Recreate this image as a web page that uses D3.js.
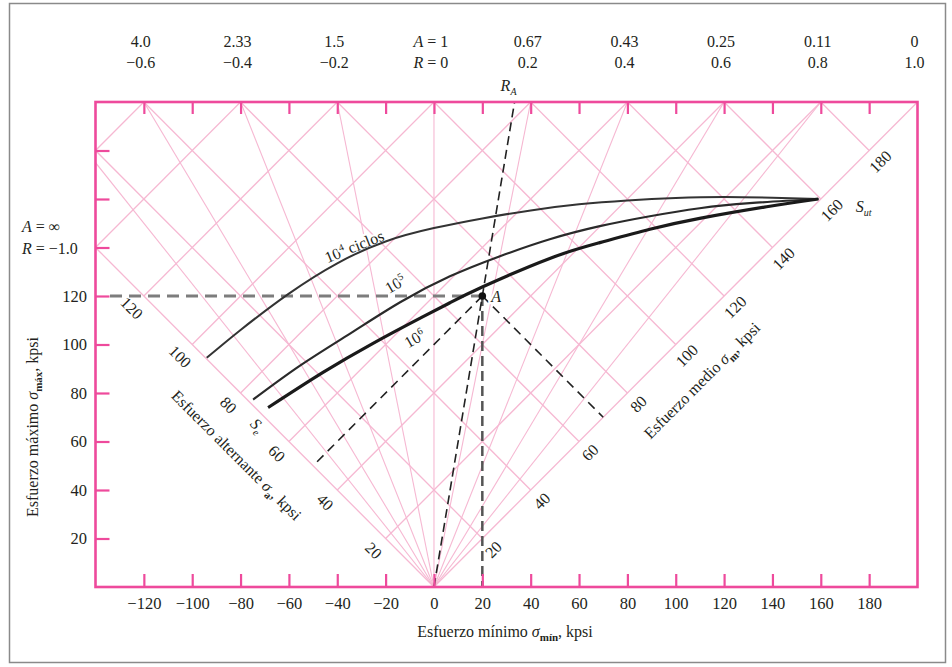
<!DOCTYPE html>
<html>
<head>
<meta charset="utf-8">
<script src="https://cdnjs.cloudflare.com/ajax/libs/d3/7.8.5/d3.min.js"></script>
<style>
  body { margin: 0; background: #fff; }
  text { font-family: "Liberation Serif", "Times New Roman", serif; fill: #231f20; }
</style>
</head>
<body>
<div class="chart"></div>
<script>
//Data
var xTicks = [-120, -100, -80, -60, -40, -20, 0, 20, 40, 60, 80, 100, 120, 140, 160, 180];
var yTicks = [20, 40, 60, 80, 100, 120, 140, 160, 180];
var yLabels = [20, 40, 60, 80, 100, 120];
var topR = [-0.6, -0.4, -0.2, 0, 0.2, 0.4, 0.6, 0.8, 1.0];
var topA = ["4.0", "2.33", "1.5", "1", "0.67", "0.43", "0.25", "0.11", "0"];
var rayR = [-0.8, -0.6, -0.4, -0.2, 0, 0.2, 0.4, 0.6, 0.8];
var altGrid = [20, 40, 60, 80, 100, 120, 140, 160];
var meanGrid = [20, 40, 60, 80, 100, 120, 140, 160, 180];
var altLabels = [20, 40, 60, 80, 100, 120];
var meanLabels = [20, 40, 60, 80, 100, 120, 140, 160, 180];

//curves as [sigma min, sigma max]
var cycles4 = [[-94, 94.5], [-80, 106], [-60, 121], [-40, 133.5], [-20, 142.5], [0, 148], [20, 152],
               [40, 155.3], [60, 157.8], [80, 159.4], [100, 160.4], [120, 160.8], [140, 160.5], [159, 160]];
var cycles5 = [[-74.8, 77.3], [-55.4, 91.3], [-34.7, 104.5], [-14, 117.4], [6.6, 128.1], [27.3, 136.4],
               [47.9, 143.4], [68.6, 148.8], [89.3, 152.9], [109.9, 156.2], [130.6, 158.3], [159, 160]];
var cycles6 = [[-68.6, 74], [-45.9, 88.5], [-25.2, 100.5], [-4.5, 111.5], [6.6, 117.2], [20.2, 123.8],
               [47.9, 135.5], [68.6, 142], [89.3, 147.5], [109.9, 152], [137.6, 156.8], [159, 160]];
var pointA = {min: 20, max: 120};
var Sut = 160, Se = 70;

//Config
var width = 952,
    height = 667;

var pink = "#ee4a9c",
    gridPink = "#f6b8d2";

var x = d3.scaleLinear().domain([-140, 200]).range([95.5, 917.5]);
var y = d3.scaleLinear().domain([0, 200]).range([587, 102]);

// (sigma min, sigma max) -> pixel
function p(smin, smax) { return [x(smin), y(smax)]; }
var line = d3.line();

var svg = d3.select(".chart")
  .append("svg")
  .attr("width", width)
  .attr("height", height);

// outer border
svg.append("rect")
  .attr("x", 9.5).attr("y", 3.5)
  .attr("width", 936).attr("height", 659)
  .style("fill", "none").style("stroke", "#8a8a8a").style("stroke-width", 1.5);

svg.append("defs").append("clipPath").attr("id", "plot")
  .append("rect")
  .attr("x", x(-140)).attr("y", y(200))
  .attr("width", x(200) - x(-140)).attr("height", y(0) - y(200));

var grid = svg.append("g").attr("clip-path", "url(#plot)")
  .style("stroke", gridPink).style("fill", "none");

// lines of constant alternating stress
altGrid.forEach(function (k) {
  grid.append("path").style("stroke-width", 1.3)
    .attr("d", line([p(-k, k), p(400 - k, 400 + k)]));
});
// lines of constant mean stress
meanGrid.forEach(function (j) {
  grid.append("path").style("stroke-width", 1.3)
    .attr("d", line([p(j, j), p(j - 400, j + 400)]));
});
// rays of constant R, plus the two rotated axes
rayR.forEach(function (r) {
  grid.append("path").style("stroke-width", 1.1)
    .attr("d", line([p(0, 0), p(r * 1000, 1000)]));
});
grid.append("path").style("stroke-width", 1.3).attr("d", line([p(0, 0), p(-400, 400)]));
grid.append("path").style("stroke-width", 1.3).attr("d", line([p(0, 0), p(400, 400)]));

//Dashed construction lines
var dashes = svg.append("g").style("fill", "none");
dashes.append("path")
  .attr("d", line([p(-134, pointA.max), p(pointA.min, pointA.max)]))
  .style("stroke", "#7d7d7d").style("stroke-width", 3).style("stroke-dasharray", "12,7");
dashes.append("path")
  .attr("d", line([p(pointA.min, pointA.max), p(pointA.min, 0)]))
  .style("stroke", "#555").style("stroke-width", 2.5).style("stroke-dasharray", "10,5");
dashes.append("path")
  .attr("d", line([p(0, 0), p(200 * pointA.min / pointA.max, 200)]))
  .style("stroke", "#222").style("stroke-width", 1.6).style("stroke-dasharray", "9,5");
var am = (pointA.min + pointA.max) / 2, aa = (pointA.max - pointA.min) / 2;
dashes.append("path")
  .attr("d", line([p(pointA.min, pointA.max), p(am, am)]))
  .style("stroke", "#222").style("stroke-width", 1.6).style("stroke-dasharray", "9,6");
dashes.append("path")
  .attr("d", line([p(pointA.min, pointA.max), p(-aa, aa)]))
  .style("stroke", "#222").style("stroke-width", 1.6).style("stroke-dasharray", "9,6");

//Curve labels with white halo (drawn under the curves)
function halo(t) {
  return t.style("stroke", "#fff").style("stroke-width", 4.5).attr("paint-order", "stroke")
    .style("stroke-linejoin", "round");
}
function cycleLabel(smin, smax, angle, expo, rest) {
  var q = p(smin, smax);
  var t = svg.append("text")
    .attr("transform", "translate(" + q[0] + "," + q[1] + ") rotate(" + angle + ")")
    .attr("text-anchor", "middle").attr("dy", "0.35em").style("font-size", "16px");
  halo(t);
  t.append("tspan").text("10");
  t.append("tspan").attr("dy", -6).style("font-size", "10px").text(expo);
  if (rest) t.append("tspan").attr("dy", 6).text(rest);
}
cycleLabel(-33, 140.5, -22, "4", " ciclos");
cycleLabel(-16, 125, -30, "5");
cycleLabel(-8, 102.5, -30, "6");

//Fatigue curves
var curveLine = d3.line()
  .x(function (d) { return x(d[0]); })
  .y(function (d) { return y(d[1]); })
  .curve(d3.curveNatural);

[[cycles4, 2, "#333"], [cycles5, 2.2, "#2a2a2a"], [cycles6, 3.2, "#1a1a1a"]].forEach(function (c) {
  svg.append("path")
    .attr("d", curveLine(c[0]))
    .style("fill", "none")
    .style("stroke", c[2])
    .style("stroke-width", c[1]);
});

svg.append("circle")
  .attr("cx", x(pointA.min)).attr("cy", y(pointA.max)).attr("r", 3.8)
  .style("fill", "#111");

//Frame and ticks
svg.append("rect")
  .attr("x", x(-140)).attr("y", y(200))
  .attr("width", x(200) - x(-140)).attr("height", y(0) - y(200))
  .style("fill", "none").style("stroke", pink).style("stroke-width", 2.6);

function styleAxis(g) {
  g.select(".domain").remove();
  g.selectAll(".tick line").style("stroke", pink).style("stroke-width", 2.2);
  g.selectAll("text").style("font-family", "'Liberation Serif', serif")
    .style("font-size", "16.5px").style("fill", "#231f20");
  g.attr("font-family", null);
}

svg.append("g")
  .attr("transform", "translate(0," + y(0) + ")")
  .call(d3.axisBottom(x).tickValues(xTicks).tickSize(-13).tickPadding(10).tickFormat(d3.format("d")))
  .call(styleAxis);

svg.append("g")
  .attr("transform", "translate(0," + y(200) + ")")
  .call(d3.axisTop(x).tickValues(xTicks).tickSize(-12).tickFormat(""))
  .call(styleAxis);

svg.append("g")
  .attr("transform", "translate(" + x(-140) + ",0)")
  .call(d3.axisLeft(y).tickValues(yTicks).tickSize(-14).tickPadding(8.5)
    .tickFormat(function (d) { return yLabels.indexOf(d) >= 0 ? d : ""; }))
  .call(styleAxis);

//Top labels (A and R)
var fmtR = d3.format(".1f");
topR.forEach(function (r, i) {
  var tx = x(200 * r) - 3;
  var tA = svg.append("text").attr("x", tx).attr("y", 47)
    .attr("text-anchor", "middle").style("font-size", "16px");
  var tR = svg.append("text").attr("x", tx).attr("y", 68)
    .attr("text-anchor", "middle").style("font-size", "16px");
  if (r === 0) {
    tA.append("tspan").style("font-style", "italic").text("A");
    tA.append("tspan").text(" = " + topA[i]);
    tR.append("tspan").style("font-style", "italic").text("R");
    tR.append("tspan").text(" = 0");
  } else {
    tA.text(topA[i]);
    tR.text(fmtR(r));
  }
});

// R_A label
var ra = svg.append("text")
  .attr("x", x(200 * pointA.min / pointA.max) - 6).attr("y", 91)
  .attr("text-anchor", "middle").style("font-size", "16px").style("font-style", "italic");
ra.append("tspan").text("R");
ra.append("tspan").attr("dy", 4).style("font-size", "10px").text("A");

// A = inf, R = -1.0 at the left edge
var la = svg.append("text").attr("x", 22).attr("y", y(140) - 16).style("font-size", "16px");
la.append("tspan").style("font-style", "italic").text("A");
la.append("tspan").text(" = \u221e");
var lr = svg.append("text").attr("x", 22).attr("y", y(140) + 6).style("font-size", "16px");
lr.append("tspan").style("font-style", "italic").text("R");
lr.append("tspan").text(" = \u22121.0");

//Rotated axis labels
altLabels.forEach(function (a) {
  var q = p(-a, a);
  svg.append("text")
    .attr("transform", "translate(" + (q[0] - 12) + "," + (q[1] + 12) + ") rotate(45)")
    .attr("text-anchor", "middle").attr("dy", "0.35em")
    .style("font-size", "16px").text(a);
});
meanLabels.forEach(function (m) {
  var q = p(m, m);
  svg.append("text")
    .attr("transform", "translate(" + (q[0] + 11) + "," + (q[1] + 11) + ") rotate(-45)")
    .attr("text-anchor", "middle").attr("dy", "0.35em")
    .style("font-size", "16px").text(m);
});

// Se and Sut
var qe = p(-Se, Se);
var se = svg.append("text")
  .attr("transform", "translate(" + (qe[0] - 7) + "," + (qe[1] + 8) + ") rotate(45)")
  .attr("text-anchor", "middle").attr("dy", "0.35em").style("font-size", "16px");
se.append("tspan").style("font-style", "italic").text("S");
se.append("tspan").attr("dy", 4).style("font-size", "10px").style("font-style", "italic").text("e");

var qu = p(Sut, Sut);
var su = svg.append("text").attr("x", qu[0] + 35).attr("y", qu[1] + 13).style("font-size", "16px")
  .style("font-style", "italic");
su.append("tspan").text("S");
su.append("tspan").attr("dy", 4).style("font-size", "10px").text("ut");

// Axis titles
function sigmaTitle(g, before, sub, after) {
  g.append("tspan").text(before);
  g.append("tspan").style("font-style", "italic").text("\u03c3");
  g.append("tspan").attr("dy", 4).style("font-size", "11px").style("font-weight", "bold").text(sub);
  g.append("tspan").attr("dy", -4).text(after);
}

var qa = p(-68, 68);
var ta = svg.append("text")
  .attr("transform", "translate(" + (qa[0] - 33) + "," + (qa[1] + 33) + ") rotate(45)")
  .attr("text-anchor", "middle").attr("dy", "0.35em").style("font-size", "16px");
sigmaTitle(ta, "Esfuerzo alternante ", "a", ", kpsi");

var qm = p(98, 98);
var tm = svg.append("text")
  .attr("transform", "translate(" + (qm[0] + 31) + "," + (qm[1] + 31) + ") rotate(-45)")
  .attr("text-anchor", "middle").attr("dy", "0.35em").style("font-size", "16px");
sigmaTitle(tm, "Esfuerzo medio ", "m", ", kpsi");

var tx = svg.append("text").attr("x", 505).attr("y", 637)
  .attr("text-anchor", "middle").style("font-size", "16px");
sigmaTitle(tx, "Esfuerzo m\u00ednimo ", "m\u00edn", ", kpsi");

var ty = svg.append("text")
  .attr("transform", "translate(32," + 427 + ") rotate(-90)")
  .attr("text-anchor", "middle").attr("dy", "0.35em").style("font-size", "16px");
sigmaTitle(ty, "Esfuerzo m\u00e1ximo ", "m\u00e1x", ", kpsi");

var lA = svg.append("text")
  .attr("x", x(pointA.min) + 9).attr("y", y(pointA.max) + 6)
  .style("font-size", "16px").style("font-style", "italic").text("A");
halo(lA);
</script>
</body>
</html>
